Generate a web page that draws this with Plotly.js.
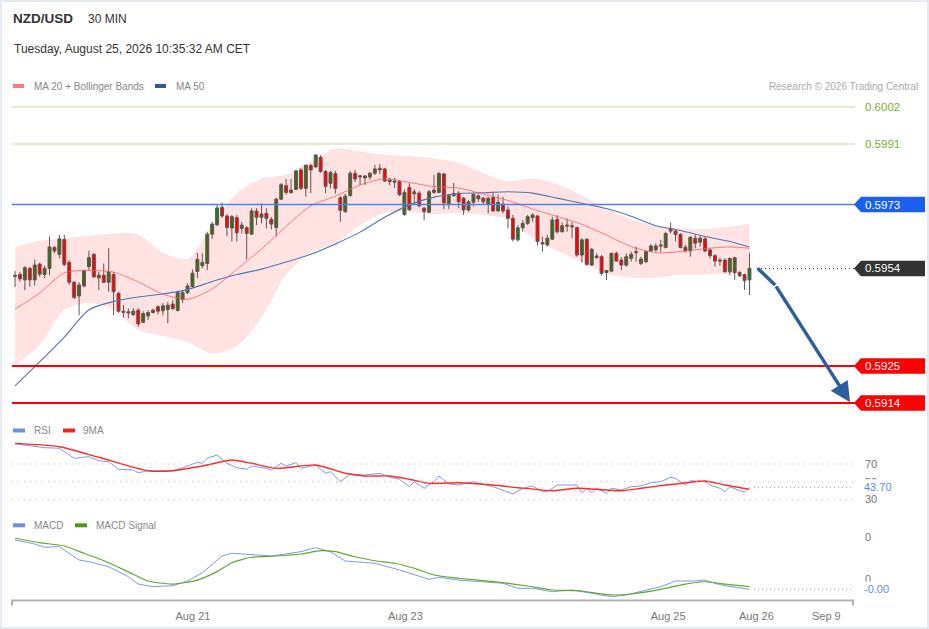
<!DOCTYPE html>
<html>
<head>
<meta charset="utf-8">
<script src="https://cdn.plot.ly/plotly-3.0.1.min.js"></script>
<style>html,body{margin:0;padding:0;background:#fff;}#chart{width:929px;height:629px;}</style>
</head>
<body>
<div id="chart"></div>
<script>
// ---------- DATA ----------
const OPEN = [0.59520,0.59522,0.59506,0.59540,0.59506,0.59553,0.59522,0.59540,0.59602,0.59582,
0.59626,0.59558,0.59499,0.59458,0.59488,0.59545,0.59582,0.59520,0.59520,0.59499,
0.59522,0.59466,0.59413,0.59411,0.59403,0.59416,0.59380,0.59399,0.59409,0.59426,
0.59414,0.59418,0.59434,0.59415,0.59448,0.59468,0.59486,0.59531,0.59548,0.59555,
0.59642,0.59670,0.59722,0.59696,0.59660,0.59691,0.59659,0.59661,0.59642,0.59711,
0.59692,0.59704,0.59686,0.59662,0.59746,0.59786,0.59766,0.59775,0.59833,0.59778,
0.59846,0.59842,0.59870,0.59828,0.59793,0.59822,0.59750,0.59709,0.59757,0.59822,
0.59812,0.59809,0.59812,0.59823,0.59838,0.59836,0.59803,0.59800,0.59798,0.59700,
0.59781,0.59768,0.59764,0.59719,0.59707,0.59766,0.59766,0.59821,0.59733,0.59756,
0.59764,0.59749,0.59714,0.59737,0.59756,0.59749,0.59731,0.59751,0.59711,0.59731,
0.59714,0.59689,0.59625,0.59661,0.59674,0.59691,0.59696,0.59617,0.59610,0.59627,
0.59686,0.59649,0.59669,0.59667,0.59662,0.59580,0.59627,0.59550,0.59577,0.59575,
0.59528,0.59532,0.59585,0.59565,0.59550,0.59570,0.59590,0.59555,0.59560,0.59592,
0.59595,0.59610,0.59602,0.59659,0.59651,0.59641,0.59603,0.59592,0.59630,0.59618,
0.59628,0.59595,0.59578,0.59565,0.59565,0.59530,0.59528,0.59528,0.59522,0.59506];
const HIGH = [0.59532,0.59530,0.59547,0.59545,0.59567,0.59557,0.59548,0.59635,0.59607,0.59640,
0.59640,0.59565,0.59503,0.59499,0.59537,0.59593,0.59586,0.59530,0.59555,0.59600,
0.59530,0.59471,0.59431,0.59421,0.59422,0.59422,0.59413,0.59416,0.59421,0.59431,
0.59437,0.59440,0.59446,0.59474,0.59476,0.59496,0.59537,0.59586,0.59585,0.59649,
0.59679,0.59729,0.59736,0.59702,0.59699,0.59699,0.59678,0.59666,0.59719,0.59719,
0.59733,0.59719,0.59693,0.59750,0.59794,0.59806,0.59806,0.59833,0.59839,0.59848,
0.59851,0.59880,0.59877,0.59833,0.59830,0.59830,0.59755,0.59762,0.59830,0.59833,
0.59818,0.59818,0.59827,0.59848,0.59850,0.59839,0.59809,0.59809,0.59803,0.59775,
0.59794,0.59776,0.59770,0.59723,0.59773,0.59818,0.59827,0.59824,0.59762,0.59794,
0.59770,0.59753,0.59744,0.59765,0.59760,0.59753,0.59753,0.59765,0.59760,0.59753,
0.59724,0.59699,0.59669,0.59684,0.59699,0.59704,0.59699,0.59635,0.59640,0.59694,
0.59699,0.59677,0.59689,0.59677,0.59664,0.59630,0.59630,0.59601,0.59585,0.59580,
0.59535,0.59587,0.59590,0.59574,0.59585,0.59590,0.59605,0.59575,0.59595,0.59612,
0.59615,0.59625,0.59649,0.59677,0.59654,0.59645,0.59610,0.59635,0.59640,0.59637,
0.59635,0.59600,0.59582,0.59572,0.59570,0.59572,0.59575,0.59532,0.59525,0.59587];
const LOW = [0.59485,0.59501,0.59476,0.59486,0.59489,0.59515,0.59511,0.59520,0.59585,0.59570,
0.59547,0.59491,0.59449,0.59401,0.59484,0.59535,0.59512,0.59476,0.59496,0.59471,
0.59401,0.59409,0.59394,0.59392,0.59398,0.59367,0.59377,0.59387,0.59406,0.59403,
0.59401,0.59377,0.59416,0.59412,0.59437,0.59464,0.59482,0.59511,0.59540,0.59535,
0.59628,0.59666,0.59690,0.59636,0.59620,0.59620,0.59644,0.59567,0.59640,0.59669,
0.59674,0.59659,0.59656,0.59635,0.59744,0.59759,0.59762,0.59773,0.59773,0.59753,
0.59764,0.59839,0.59824,0.59764,0.59778,0.59762,0.59679,0.59705,0.59753,0.59797,
0.59788,0.59788,0.59803,0.59818,0.59821,0.59797,0.59788,0.59779,0.59755,0.59697,
0.59711,0.59734,0.59723,0.59683,0.59704,0.59762,0.59764,0.59716,0.59717,0.59753,
0.59719,0.59699,0.59709,0.59724,0.59738,0.59729,0.59704,0.59709,0.59709,0.59704,
0.59659,0.59620,0.59620,0.59649,0.59669,0.59679,0.59608,0.59590,0.59605,0.59625,
0.59644,0.59647,0.59649,0.59630,0.59575,0.59558,0.59548,0.59547,0.59568,0.59518,
0.59506,0.59529,0.59560,0.59535,0.59545,0.59560,0.59560,0.59550,0.59555,0.59590,
0.59590,0.59590,0.59600,0.59644,0.59620,0.59600,0.59588,0.59575,0.59600,0.59605,
0.59588,0.59570,0.59545,0.59548,0.59528,0.59520,0.59506,0.59515,0.59476,0.59461];
const CLOSE = [0.59517,0.59509,0.59542,0.59506,0.59550,0.59523,0.59540,0.59604,0.59592,0.59628,
0.59552,0.59499,0.59454,0.59491,0.59533,0.59572,0.59515,0.59512,0.59499,0.59530,
0.59471,0.59413,0.59410,0.59408,0.59413,0.59375,0.59406,0.59409,0.59416,0.59413,
0.59429,0.59431,0.59421,0.59469,0.59468,0.59488,0.59526,0.59567,0.59558,0.59642,
0.59672,0.59720,0.59696,0.59662,0.59694,0.59646,0.59669,0.59644,0.59711,0.59692,
0.59702,0.59689,0.59672,0.59746,0.59789,0.59766,0.59773,0.59830,0.59778,0.59847,
0.59833,0.59877,0.59828,0.59784,0.59825,0.59778,0.59713,0.59755,0.59823,0.59806,
0.59815,0.59815,0.59823,0.59836,0.59833,0.59800,0.59798,0.59797,0.59759,0.59766,
0.59715,0.59762,0.59726,0.59709,0.59768,0.59773,0.59822,0.59735,0.59757,0.59763,
0.59738,0.59714,0.59738,0.59760,0.59747,0.59738,0.59749,0.59711,0.59737,0.59711,
0.59689,0.59627,0.59661,0.59674,0.59694,0.59699,0.59620,0.59613,0.59630,0.59684,
0.59649,0.59667,0.59666,0.59664,0.59580,0.59625,0.59552,0.59597,0.59573,0.59525,
0.59534,0.59585,0.59562,0.59550,0.59575,0.59582,0.59587,0.59568,0.59590,0.59607,
0.59607,0.59607,0.59644,0.59651,0.59641,0.59602,0.59593,0.59633,0.59615,0.59630,
0.59592,0.59578,0.59562,0.59562,0.59530,0.59570,0.59572,0.59518,0.59504,0.59540];

// moving averages / bands, read every 5 candles
const MA_IDX = [0,5,10,15,20,25,30,35,40,45,50,55,60,65,70,75,80,85,90,95,100,105,110,115,120,125,130,135,140,145,149];
const MA20 = [0.59419,0.59467,0.59527,0.59534,0.59529,0.59500,0.59464,0.59448,0.59479,0.59537,
0.59598,0.59665,0.59726,0.59755,0.59788,0.59807,0.59796,0.59783,0.59779,0.59761,
0.59742,0.59717,0.59694,0.59671,0.59639,0.59605,0.59587,0.59590,0.59599,0.59604,0.59600];
const BB_UPPER = [0.59604,0.59622,0.59629,0.59637,0.59644,0.59642,0.59586,0.59568,0.59669,0.59764,
0.59807,0.59819,0.59859,0.59897,0.59888,0.59879,0.59874,0.59867,0.59854,0.59824,
0.59799,0.59808,0.59791,0.59757,0.59718,0.59686,0.59668,0.59659,0.59657,0.59664,0.59673];
const BB_LOWER = [0.59253,0.59312,0.59417,0.59437,0.59417,0.59357,0.59339,0.59321,0.59286,0.59309,
0.59393,0.59521,0.59589,0.59613,0.59669,0.59705,0.59708,0.59702,0.59705,0.59699,
0.59687,0.59631,0.59592,0.59559,0.59524,0.59512,0.59512,0.59521,0.59521,0.59524,0.59529];
const MA50 = [0.59191,0.59262,0.59336,0.59417,0.59442,0.59455,0.59464,0.59477,0.59501,0.59522,
0.59538,0.59559,0.59582,0.59613,0.59648,0.59692,0.59729,0.59752,0.59763,0.59765,
0.59768,0.59764,0.59749,0.59734,0.59718,0.59695,0.59667,0.59653,0.59635,0.59620,0.59604];

// RSI
const RSI_IDX = [0,4,6,9,12,15,17,19,21,24,25,27,32,34,37,38,39,41,43,45,47,48,51,52,54,55,57,58,61,63,64,66,68,71,74,76,78,80,81,83,85,86,88,90,93,97,101,103,105,107,108,110,112,114,115,116,117,118,120,121,123,125,127,129,131,133,134,136,137,140,141,143,144,145,147,148,149];
const RSI = [92.7,90.4,88.5,87.8,76.5,78.3,73.7,72.6,64.0,63.2,60.1,62.4,62.4,65.8,71.9,70.8,76.5,80.2,70.8,65.8,64.0,67.7,65.1,63.2,70.8,67.7,71.5,65.1,68.9,59.5,61.3,50.0,58.7,57.5,59.5,54.9,52.7,44.3,50.0,42.5,50.0,56.4,47.4,46.2,50.0,44.3,36.0,42.5,45.1,38.6,38.6,46.2,46.2,46.2,37.5,42.5,37.5,42.5,36.8,42.5,40.6,44.3,45.1,48.8,50.0,54.9,53.8,46.2,51.1,50.0,46.2,42.5,38.6,44.3,39.8,38.6,43.7];
const RSI_MA_IDX = [0,9,17,27,32,38,44,48,53,61,67,71,76,80,84,90,97,102,109,114,123,127,132,138,140,144,149];
const RSI_MA = [93.4,89.6,77.6,62.4,62.4,67.7,74.5,70.8,65.1,68.9,59.5,56.4,56.4,52.7,48.1,48.8,46.2,43.2,39.8,42.5,39.8,42.5,46.2,50.0,50.7,46.2,41.3];
const RSI_LEVELS = [70, 50, 30];
const RSI_LAST = 43.70;

// MACD
const MACD_IDX = [0,4,6,9,13,15,19,23,25,28,32,35,38,42,44,48,52,58,61,64,67,73,78,84,86,90,94,99,102,105,109,113,117,121,124,127,131,134,138,140,142,144,149];
const MACD = [0.000371,0.000333,0.000302,0.000308,0.000181,0.000165,0.000117,0.000022,-0.000048,-0.000073,-0.000064,-0.000019,0.000060,0.000219,0.000245,0.000229,0.000219,0.000260,0.000298,0.000260,0.000171,0.000150,0.000086,-0.000003,0.000016,-0.000010,-0.000026,-0.000041,-0.000089,-0.000089,-0.000121,-0.000105,-0.000136,-0.000169,-0.000152,-0.000121,-0.000073,-0.000019,-0.000019,-0.000010,-0.000041,-0.000064,-0.000098];
const SIG_IDX = [0,5,10,14,19,24,27,32,37,41,44,48,53,58,62,65,69,73,77,81,85,90,99,104,109,114,121,125,131,136,140,144,149];
const SIGNAL = [0.000388,0.000346,0.000314,0.000245,0.000155,0.000045,-0.000019,-0.000048,-0.000010,0.000070,0.000155,0.000207,0.000219,0.000238,0.000270,0.000260,0.000212,0.000174,0.000150,0.000102,0.000038,0.000007,-0.000035,-0.000067,-0.000105,-0.000111,-0.000152,-0.000143,-0.000098,-0.000048,-0.000026,-0.000048,-0.000073];
const MACD_TICKS = [0.0004, 0];
const MACD_TICK_TEXT = ["0", "0"];

// levels
const RES_LEVELS = [0.6002, 0.5991];
const PIVOT = 0.5973;
const LAST_PRICE = 0.5954;
const SUP_LEVELS = [0.5925, 0.5914];
// arrow path (candle index, price)
const ARROW_X = [150.7, 154.2, 169.4];
const ARROW_Y = [0.59540, 0.59491, 0.59142];

// axis labels
const X_TICK_POS = [36.1, 79.2, 132.5, 150.4, 164.6];
const X_TICK_TEXT = ["Aug 21", "Aug 23", "Aug 25", "Aug 26", "Sep 9"];

// ---------- LAYOUT HELPERS ----------
const W = 929, H = 629;
const px = v => v / W;
const py = v => 1 - v / H;
const FONT = '"Liberation Sans", Arial, sans-serif';
const idx = OPEN.map((_, i) => i);
const PRICE_PER_PX = 0.00002973;

const traces = [];
traces.push({type:'scatter', mode:'lines', x:MA_IDX, y:BB_UPPER, line:{width:0, shape:'spline', smoothing:0.7}, hoverinfo:'skip', xaxis:'x', yaxis:'y'});
traces.push({type:'scatter', mode:'lines', x:MA_IDX, y:BB_LOWER, line:{width:0, shape:'spline', smoothing:0.7}, fill:'tonexty', fillcolor:'rgba(255,0,0,0.11)', hoverinfo:'skip', xaxis:'x', yaxis:'y'});
traces.push({type:'scatter', mode:'lines', x:MA_IDX, y:MA20, line:{width:1, color:'rgba(255,90,90,0.8)', shape:'spline', smoothing:0.7}, hoverinfo:'skip', xaxis:'x', yaxis:'y'});
traces.push({type:'scatter', mode:'lines', x:MA_IDX, y:MA50, line:{width:1.1, color:'#5074b5', shape:'spline', smoothing:0.7}, hoverinfo:'skip', xaxis:'x', yaxis:'y'});
traces.push({type:'candlestick', x:idx, open:OPEN, high:HIGH, low:LOW, close:CLOSE,
  increasing:{line:{color:'#5a5a5a', width:1}, fillcolor:'#1d7d1d'},
  decreasing:{line:{color:'#5a5a5a', width:1}, fillcolor:'#ff0000'},
  whiskerwidth:0, hoverinfo:'skip', xaxis:'x', yaxis:'y'});
traces.push({type:'scatter', mode:'lines', x:ARROW_X.slice(0,2), y:ARROW_Y.slice(0,2), line:{width:3.5, color:'#2f5e9e'}, hoverinfo:'skip', xaxis:'x', yaxis:'y'});
// RSI
traces.push({type:'scatter', mode:'lines', x:RSI_IDX, y:RSI, line:{width:1, color:'#7a9be9'}, hoverinfo:'skip', xaxis:'x', yaxis:'y2'});
traces.push({type:'scatter', mode:'lines', x:RSI_MA_IDX, y:RSI_MA, line:{width:1.4, color:'#ff2a2a', shape:'spline', smoothing:0.6}, hoverinfo:'skip', xaxis:'x', yaxis:'y2'});
// MACD
traces.push({type:'scatter', mode:'lines', x:MACD_IDX, y:MACD, line:{width:1, color:'#7a9be9'}, hoverinfo:'skip', xaxis:'x', yaxis:'y3'});
traces.push({type:'scatter', mode:'lines', x:SIG_IDX, y:SIGNAL, line:{width:1.2, color:'#62a82a', shape:'spline', smoothing:0.6}, hoverinfo:'skip', xaxis:'x', yaxis:'y3'});

const shapes = [];
const annotations = [];
function hline(yv, yref, x0, x1, color, width, dash){
  shapes.push({type:'line', xref:'paper', yref:yref, x0:px(x0), x1:px(x1), y0:yv, y1:yv, line:{color:color, width:width, dash:dash||'solid'}});
}
function text(t, x, y, size, color, opts){
  annotations.push(Object.assign({text:t, xref:'paper', yref:'paper', x:px(x), y:py(y), xanchor:'left', yanchor:'middle', showarrow:false, font:{family:FONT, size:size, color:color}}, opts||{}));
}
function swatch(x0, x1, yc, color){
  shapes.push({type:'rect', xref:'paper', yref:'paper', x0:px(x0), x1:px(x1), y0:py(yc+2), y1:py(yc-2), line:{width:0}, fillcolor:color});
}
function tagBox(price, color){
  const h = 7.7 * PRICE_PER_PX;
  shapes.push({type:'path', xref:'paper', yref:'y', fillcolor:color, line:{width:0},
    path:`M ${px(854)},${price} L ${px(861)},${price+h} L ${px(925)},${price+h} L ${px(925)},${price-h} L ${px(861)},${price-h} Z`});
  annotations.push({text:price.toFixed(4), xref:'paper', yref:'y', x:px(863), y:price, xanchor:'left', yanchor:'middle', showarrow:false, font:{family:FONT, size:11.5, color:'#ffffff'}});
}

// frame
shapes.push({type:'rect', xref:'paper', yref:'paper', x0:0, x1:1, y0:0, y1:1, line:{color:'#e4eaef', width:4}, fillcolor:'rgba(0,0,0,0)'});

// price levels
RES_LEVELS.forEach(v => {
  hline(v, 'y', 12, 855, '#bfe0a0', 1.2);
  annotations.push({text:v.toFixed(4), xref:'paper', yref:'y', x:px(863), y:v, xanchor:'left', yanchor:'middle', showarrow:false, font:{family:FONT, size:11.5, color:'#78b32a'}});
});
hline(PIVOT, 'y', 12, 855, '#4f80e6', 1.5);
tagBox(PIVOT, '#1a5ff0');
hline(LAST_PRICE, 'y', 757, 855, '#333333', 1, '1px,3px');
tagBox(LAST_PRICE, '#333333');
SUP_LEVELS.forEach(v => { hline(v, 'y', 12, 855, '#ff0000', 2); tagBox(v, '#ff0000'); });

// arrow head
annotations.push({text:'', xref:'x', yref:'y', axref:'x', ayref:'y', x:ARROW_X[2], y:ARROW_Y[2], ax:ARROW_X[1], ay:ARROW_Y[1], showarrow:true, arrowhead:2, arrowsize:1.15, arrowwidth:3.5, arrowcolor:'#2f5e9e', standoff:0});

// RSI grid & labels
RSI_LEVELS.forEach(v => {
  hline(v, 'y2', 12, 853, '#bdbdbd', 1, '1px,5px');
  annotations.push({text:String(v), xref:'paper', yref:'y2', x:px(863), y:v, xanchor:'left', yanchor:'middle', showarrow:false, font:{family:FONT, size:11, color:'#777'}});
});
hline(RSI_LAST, 'y2', 754, 853, '#6f94e8', 1, '1px,3px');
annotations.push({text:RSI_LAST.toFixed(2), xref:'paper', yref:'y2', x:px(862), y:RSI_LAST, xanchor:'left', yanchor:'middle', showarrow:false, bgcolor:'#ffffff', borderpad:1, font:{family:FONT, size:11, color:'#5b8def'}});

// MACD labels
MACD_TICKS.forEach((v, k) => {
  annotations.push({text:MACD_TICK_TEXT[k], xref:'paper', yref:'y3', x:px(863), y:v, xanchor:'left', yanchor:'middle', showarrow:false, font:{family:FONT, size:11, color:'#777'}});
});
const macdLast = MACD[MACD.length-1];
hline(macdLast, 'y3', 754, 853, '#6f94e8', 1, '1px,3px');
annotations.push({text:macdLast.toFixed(2), xref:'paper', yref:'y3', x:px(862), y:macdLast, xanchor:'left', yanchor:'middle', showarrow:false, bgcolor:'#ffffff', borderpad:1, font:{family:FONT, size:11, color:'#5b8def'}});

// x axis line + end ticks
shapes.push({type:'line', xref:'paper', yref:'paper', x0:px(11), x1:px(854), y0:py(600.5), y1:py(600.5), line:{color:'#b3b3b3', width:2}});
shapes.push({type:'line', xref:'paper', yref:'paper', x0:px(12), x1:px(12), y0:py(600), y1:py(605.5), line:{color:'#b3b3b3', width:2}});
shapes.push({type:'line', xref:'paper', yref:'paper', x0:px(853), x1:px(853), y0:py(600), y1:py(605.5), line:{color:'#b3b3b3', width:2}});

// header texts
text('<b>NZD/USD</b>', 11, 19, 13.5, '#333');
text('30 MIN', 86, 19, 12, '#333');
text('Tuesday, August 25, 2026 10:35:32 AM CET', 12, 48.5, 12, '#333');
// legends
swatch(13, 24, 86, '#ff7b7b'); text('MA 20 + Bollinger Bands', 32, 86, 10, '#888');
swatch(155, 166, 86, '#30589a'); text('MA 50', 174, 86, 10, '#888');
text('Research © 2026 Trading Central', 920, 86, 10, '#aaa', {xanchor:'right'});
swatch(13, 25, 430.5, '#6b8fe6'); text('RSI', 32, 430.5, 10, '#888');
swatch(63, 75, 430.5, '#ff2020'); text('9MA', 81, 430.5, 10, '#888');
swatch(13, 25, 525.3, '#6b8fe6'); text('MACD', 32, 525.3, 10, '#888');
swatch(75, 87, 525.3, '#4c9a10'); text('MACD Signal', 94, 525.3, 10, '#888');

const layout = {
  width:W, height:H, margin:{l:0, r:0, t:0, b:0},
  paper_bgcolor:'#ffffff', plot_bgcolor:'rgba(0,0,0,0)', showlegend:false,
  font:{family:FONT},
  boxgap:0.15,
  xaxis:{domain:[px(12), px(852)], range:[-0.61, 169.8], anchor:'y3', showgrid:false, zeroline:false, showline:false,
    tickmode:'array', tickvals:X_TICK_POS, ticktext:X_TICK_TEXT, ticks:'outside', ticklen:6, tickcolor:'rgba(0,0,0,0)',
    tickfont:{family:FONT, size:11, color:'#777'},
    rangeslider:{visible:false}, fixedrange:true},
  yaxis:{domain:[py(415), py(95)], range:[0.591043, 0.600557], visible:false, fixedrange:true},
  yaxis2:{domain:[py(505), py(436)], range:[23.6, 101.7], visible:false, fixedrange:true},
  yaxis3:{domain:[py(600), py(533)], range:[-0.0002, 0.000438], visible:false, fixedrange:true},
  shapes:shapes, annotations:annotations
};
Plotly.newPlot('chart', traces, layout, {staticPlot:true, displayModeBar:false});
</script>
</body>
</html>
